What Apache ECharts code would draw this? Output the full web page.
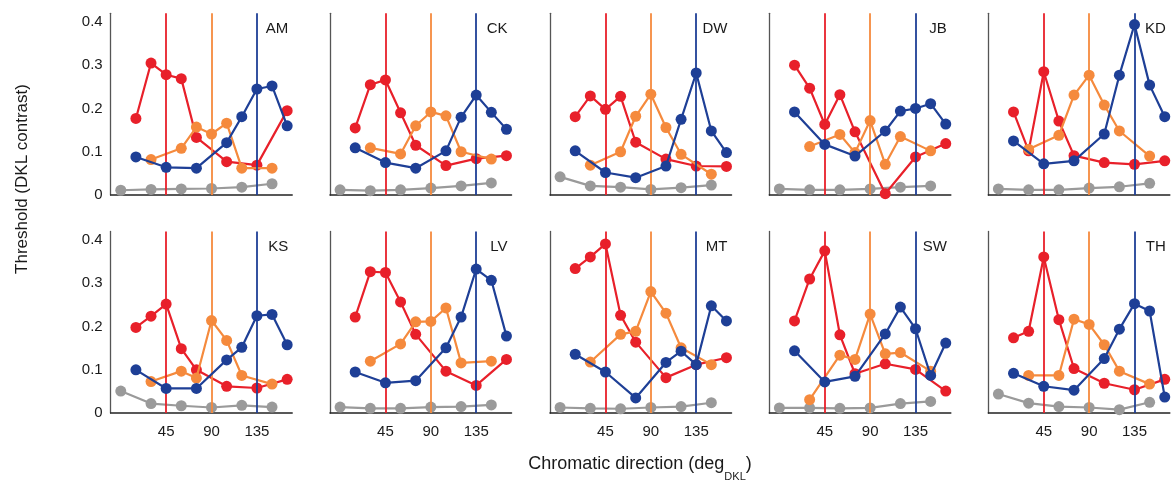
<!DOCTYPE html>
<html>
<head>
<meta charset="utf-8">
<script src="https://cdn.jsdelivr.net/npm/echarts@6/dist/echarts.min.js"></script>
<style>html,body{margin:0;padding:0;background:#fff}#c{width:1175px;height:489px}</style>
</head>
<body>
<div id="c"></div>
<script>
// ---------- data ----------
const subjects = ['AM', 'CK', 'DW', 'JB', 'KD', 'KS', 'LV', 'MT', 'SW', 'TH'];
const xTicks = [45, 90, 135];
const yTicks = [0, 0.1, 0.2, 0.3, 0.4];

const redX = [15, 30, 45, 60, 75, 105, 135, 165];
const orangeX = [30, 60, 75, 90, 105, 120, 150];
const blueX = [15, 45, 75, 105, 120, 135, 150, 165];
const grayX = [0, 30, 60, 90, 120, 150];

const redY = [
  [0.177, 0.305, 0.278, 0.269, 0.133, 0.077, 0.069, 0.195],
  [0.155, 0.255, 0.266, 0.190, 0.115, 0.068, 0.084, 0.091],
  [0.181, 0.229, 0.198, 0.228, 0.122, 0.083, 0.067, 0.066],
  [0.300, 0.247, 0.163, 0.232, 0.146, 0.003, 0.088, 0.119],
  [0.192, 0.102, 0.285, 0.171, 0.091, 0.075, 0.071, 0.079],
  [0.198, 0.224, 0.252, 0.149, 0.100, 0.062, 0.058, 0.078],
  [0.222, 0.327, 0.325, 0.257, 0.182, 0.097, 0.064, 0.124],
  [0.334, 0.361, 0.391, 0.226, 0.164, 0.082, 0.112, 0.128],
  [0.213, 0.310, 0.375, 0.181, 0.091, 0.114, 0.101, 0.051],
  [0.174, 0.189, 0.361, 0.216, 0.103, 0.069, 0.054, 0.078]
];
const orangeY = [
  [0.082, 0.108, 0.157, 0.141, 0.166, 0.062, 0.062],
  [0.109, 0.095, 0.160, 0.192, 0.183, 0.100, 0.083],
  [0.069, 0.100, 0.182, 0.233, 0.156, 0.094, 0.048],
  [0.112, 0.140, 0.098, 0.172, 0.071, 0.135, 0.102],
  [0.106, 0.138, 0.231, 0.277, 0.208, 0.148, 0.090],
  [0.073, 0.097, 0.081, 0.214, 0.168, 0.087, 0.067],
  [0.120, 0.160, 0.211, 0.212, 0.243, 0.116, 0.120],
  [0.118, 0.182, 0.189, 0.281, 0.231, 0.151, 0.112],
  [0.031, 0.134, 0.124, 0.229, 0.137, 0.140, 0.097],
  [0.087, 0.087, 0.217, 0.205, 0.158, 0.097, 0.067]
];
const blueY = [
  [0.088, 0.064, 0.062, 0.121, 0.181, 0.245, 0.252, 0.160],
  [0.109, 0.075, 0.062, 0.102, 0.180, 0.231, 0.191, 0.152],
  [0.102, 0.052, 0.040, 0.067, 0.175, 0.282, 0.148, 0.098],
  [0.192, 0.117, 0.090, 0.148, 0.194, 0.200, 0.211, 0.164],
  [0.125, 0.072, 0.079, 0.141, 0.277, 0.394, 0.254, 0.181],
  [0.100, 0.057, 0.057, 0.123, 0.152, 0.225, 0.228, 0.158],
  [0.095, 0.070, 0.075, 0.151, 0.222, 0.333, 0.307, 0.178],
  [0.136, 0.095, 0.035, 0.117, 0.143, 0.112, 0.248, 0.213],
  [0.144, 0.072, 0.085, 0.183, 0.245, 0.195, 0.087, 0.162],
  [0.092, 0.062, 0.053, 0.126, 0.194, 0.253, 0.236, 0.037]
];
const grayY = [
  [0.011, 0.013, 0.014, 0.015, 0.018, 0.026],
  [0.012, 0.010, 0.012, 0.016, 0.021, 0.028],
  [0.042, 0.021, 0.018, 0.013, 0.017, 0.023],
  [0.014, 0.012, 0.012, 0.014, 0.018, 0.021],
  [0.014, 0.012, 0.012, 0.016, 0.019, 0.027],
  [0.051, 0.022, 0.017, 0.013, 0.018, 0.014],
  [0.014, 0.011, 0.011, 0.014, 0.015, 0.019],
  [0.013, 0.011, 0.010, 0.013, 0.015, 0.024],
  [0.012, 0.012, 0.011, 0.012, 0.022, 0.027],
  [0.044, 0.023, 0.015, 0.013, 0.008, 0.025]
];
const refLines = [45, 90, 135]; // red, orange, blue reference directions

// ---------- styling / layout ----------
const C_RED = '#E8202A', C_ORANGE = '#F58A3D', C_BLUE = '#1E3F96', C_GRAY = '#9A9A9A';
const FONT = '"Liberation Sans", Arial, Helvetica, sans-serif';
const TXT = '#1a1a1a';
const lefts = [110.7, 330, 550, 769.3, 988.3];
const tops = [13.3, 231.4];
const GW = 181.5, GH = 181.7;

const grids = [], xAxes = [], yAxes = [], series = [], titles = [];

function mkSeries(i, xs, ys, color, z, refX) {
  const s = {
    type: 'line',
    xAxisIndex: i, yAxisIndex: i,
    data: xs.map((x, k) => [x, ys[k]]),
    symbol: 'circle', symbolSize: 11,
    showSymbol: true,
    lineStyle: { color: color, width: 2.2 },
    itemStyle: { color: color },
    z: z,
    silent: true,
    animation: false
  };
  if (refX !== undefined) {
    s.markLine = {
      silent: true, symbol: ['none', 'none'], animation: false,
      label: { show: false },
      lineStyle: { color: color, width: 1.8, type: 'solid' },
      emphasis: { disabled: true },
      data: [{ xAxis: refX }]
    };
  }
  return s;
}

subjects.forEach((name, i) => {
  const row = Math.floor(i / 5), col = i % 5;
  const left = lefts[col], top = tops[row];
  grids.push({ left: left, top: top, width: GW, height: GH, containLabel: false });
  xAxes.push({
    type: 'value', gridIndex: i, min: -10, max: 170,
    axisLine: { show: true, onZero: false, lineStyle: { color: '#222', width: 1.5 } },
    axisTick: { show: false },
    splitLine: { show: false },
    axisLabel: {
      show: row === 1, customValues: xTicks, margin: 11,
      fontSize: 15, color: TXT, fontFamily: FONT
    }
  });
  yAxes.push({
    type: 'value', gridIndex: i, min: 0, max: 0.42,
    axisLine: { show: true, onZero: false, lineStyle: { color: '#555', width: 1.3 } },
    axisTick: { show: false },
    splitLine: { show: false },
    axisLabel: {
      show: col === 0, customValues: yTicks, margin: 8,
      fontSize: 15, color: TXT, fontFamily: FONT
    }
  });
  series.push(mkSeries(i, grayX, grayY[i], C_GRAY, 2));
  series.push(mkSeries(i, redX, redY[i], C_RED, 3, refLines[0]));
  series.push(mkSeries(i, orangeX, orangeY[i], C_ORANGE, 4, refLines[1]));
  series.push(mkSeries(i, blueX, blueY[i], C_BLUE, 5, refLines[2]));
  titles.push({
    text: name,
    right: 1175 - (left + GW) + 4,
    top: top + 8,
    padding: 0,
    textStyle: { fontSize: 15, fontWeight: 'normal', color: TXT, fontFamily: FONT }
  });
});

const chart = echarts.init(document.getElementById('c'), null, { renderer: 'canvas' });
chart.setOption({
  animation: false,
  backgroundColor: '#fff',
  title: titles,
  grid: grids,
  xAxis: xAxes,
  yAxis: yAxes,
  series: series,
  graphic: [
    {
      type: 'text', x: 22, y: 179, rotation: Math.PI / 2,
      style: {
        text: 'Threshold (DKL contrast)', fill: TXT,
        font: '17px ' + FONT, align: 'center', verticalAlign: 'middle'
      }
    },
    {
      type: 'text', x: 640, y: 455.5,
      style: {
        text: '{m|Chromatic direction (deg}{s|DKL}{m|)}',
        align: 'center', verticalAlign: 'top', fill: TXT,
        rich: {
          m: { fontSize: 18, lineHeight: 22, verticalAlign: 'top', fontFamily: FONT, fill: TXT },
          s: { fontSize: 11, lineHeight: 13, padding: [16, 0, 0, 0], verticalAlign: 'top', fontFamily: FONT, fill: TXT }
        }
      }
    }
  ]
});
</script>
</body>
</html>
